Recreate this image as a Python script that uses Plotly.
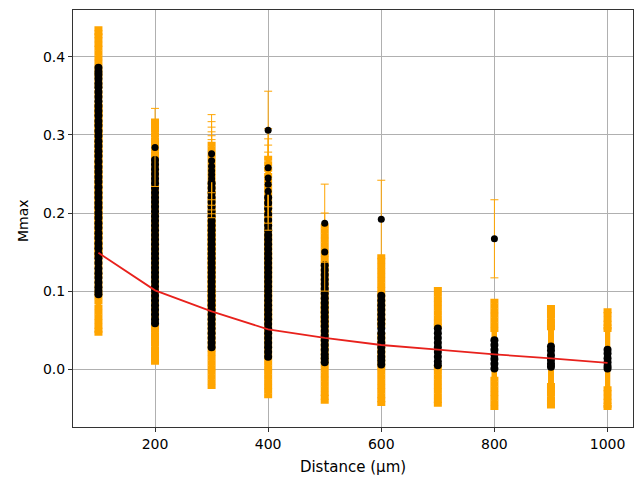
import plotly.graph_objects as go

distances = [100, 200, 300, 400, 500, 600, 700, 800, 900, 1000]

# dense clusters of measured Mmax values per distance (µm)
mmax_100 = [0.386, 0.381, 0.377, 0.372, 0.366, 0.361, 0.355, 0.349, 0.343, 0.337, 0.331, 0.325,
            0.318, 0.312, 0.305, 0.299, 0.292, 0.286, 0.279, 0.273, 0.266, 0.259, 0.253, 0.246,
            0.240, 0.233, 0.226, 0.220, 0.213, 0.207, 0.200, 0.194, 0.187, 0.181, 0.174, 0.168,
            0.161, 0.155, 0.148, 0.142, 0.136, 0.129, 0.123, 0.117, 0.111, 0.105, 0.100, 0.096]
mmax_200 = [0.268, 0.262, 0.256, 0.250, 0.244, 0.238, 0.232, 0.226, 0.220, 0.214, 0.208,
            0.202, 0.196, 0.190, 0.184, 0.178, 0.172, 0.166, 0.160, 0.154, 0.148, 0.142, 0.136,
            0.130, 0.124, 0.118, 0.112, 0.106, 0.100, 0.094, 0.088, 0.082, 0.076, 0.070, 0.064, 0.059]
mmax_300 = [0.238, 0.232, 0.226, 0.220, 0.214, 0.208,
            0.202, 0.196, 0.190, 0.184, 0.178, 0.172, 0.166, 0.160, 0.154, 0.148, 0.142, 0.136,
            0.130, 0.124, 0.118, 0.112, 0.106, 0.100, 0.094, 0.088, 0.082, 0.076, 0.070, 0.064,
            0.058, 0.052, 0.046, 0.040, 0.034, 0.028]
mmax_400 = [0.220, 0.213, 0.206, 0.198, 0.191, 0.184, 0.178,
            0.172, 0.166, 0.160, 0.154, 0.148, 0.142, 0.136, 0.130, 0.124, 0.118, 0.112, 0.106,
            0.100, 0.094, 0.088, 0.082, 0.076, 0.070, 0.064, 0.058, 0.052, 0.046, 0.040, 0.034,
            0.028, 0.022, 0.016]
mmax_500 = [0.133, 0.127, 0.121, 0.115, 0.109, 0.103, 0.097, 0.091, 0.085, 0.079,
            0.073, 0.067, 0.061, 0.055, 0.049, 0.043, 0.037, 0.031, 0.025, 0.019, 0.014, 0.009]
mmax_600 = [0.094, 0.088, 0.082, 0.076, 0.070, 0.064, 0.058, 0.052, 0.046, 0.040, 0.034,
            0.028, 0.022, 0.016, 0.011, 0.006]
mmax_700 = [0.052, 0.046, 0.040, 0.034, 0.028, 0.022, 0.016, 0.010, 0.005]
mmax_800 = [0.037, 0.031, 0.025, 0.019, 0.013, 0.007, 0.001]
mmax_900 = [0.029, 0.024, 0.018, 0.012, 0.007, 0.003]
mmax_1000 = [0.025, 0.020, 0.014, 0.009, 0.004, 0.001]

# isolated high values per distance
outliers_100 = []
outliers_200 = [0.284]
outliers_300 = [0.276, 0.267, 0.260, 0.254, 0.249, 0.244]
outliers_400 = [0.306, 0.258, 0.245, 0.237, 0.228]
outliers_500 = [0.187, 0.150]
outliers_600 = [0.192]
outliers_700 = []
outliers_800 = [0.167]
outliers_900 = []
outliers_1000 = []

error_by_distance = [0.05, 0.05, 0.05, 0.05, 0.05, 0.05, 0.05, 0.05, 0.05, 0.05]

fit_values = [0.149, 0.101, 0.074, 0.051, 0.040, 0.031, 0.025, 0.019, 0.014, 0.008]

dense_cols = [mmax_100, mmax_200, mmax_300, mmax_400, mmax_500,
              mmax_600, mmax_700, mmax_800, mmax_900, mmax_1000]
sparse_cols = [outliers_100, outliers_200, outliers_300, outliers_400, outliers_500,
               outliers_600, outliers_700, outliers_800, outliers_900, outliers_1000]


def flatten(cols):
    xs, ys, es = [], [], []
    for d, col, e in zip(distances, cols, error_by_distance):
        for v in col:
            xs.append(d)
            ys.append(v)
            es.append(e)
    return xs, ys, es


dx, dy, de = flatten(dense_cols)
sx, sy, se = flatten(sparse_cols)

ORANGE = "#FFA500"
fig = go.Figure()
fig.add_trace(go.Scatter(
    x=dx, y=dy, mode="markers",
    marker=dict(color="black", size=8, line=dict(width=0)),
    error_y=dict(type="data", array=de, symmetric=True, color=ORANGE,
                 thickness=5, width=4),
    showlegend=False, hoverinfo="skip",
))
fig.add_trace(go.Scatter(
    x=sx, y=sy, mode="markers",
    marker=dict(color="black", size=7, line=dict(width=0)),
    error_y=dict(type="data", array=se, symmetric=True, color=ORANGE,
                 thickness=1, width=4),
    showlegend=False, hoverinfo="skip",
))
fig.add_trace(go.Scatter(
    x=distances, y=fit_values, mode="lines",
    line=dict(color="#e8211c", width=1.8),
    showlegend=False, hoverinfo="skip",
))

axis_common = dict(
    showline=True, mirror=True, linecolor="#333333", linewidth=1,
    ticks="outside", ticklen=4, tickcolor="#333333",
    showgrid=True, gridcolor="#b0b0b0", gridwidth=1, zeroline=False,
    automargin=False, tickfont=dict(size=14),
)
fig.update_xaxes(range=[55, 1045], tickvals=[200, 400, 600, 800, 1000],
                 title=dict(text="Distance (µm)", standoff=10, font=dict(size=15)),
                 **axis_common)
fig.update_yaxes(range=[-0.074, 0.46], tickvals=[0.0, 0.1, 0.2, 0.3, 0.4],
                 tickformat=".1f", **axis_common)

fig.add_annotation(text="Mmax", textangle=-90, xref="paper", yref="paper",
                   x=(23 - 73) / 560, y=0.494, xanchor="center", yanchor="middle",
                   showarrow=False, font=dict(size=14, color="black"))

fig.update_layout(
    width=638, height=479,
    margin=dict(l=73, r=5, t=10, b=52),
    paper_bgcolor="white", plot_bgcolor="white",
    font=dict(family="DejaVu Sans", size=14, color="black"),
)

fig.write_html("out.html", config={"displayModeBar": False},
               post_script="document.body.style.margin='0';")
